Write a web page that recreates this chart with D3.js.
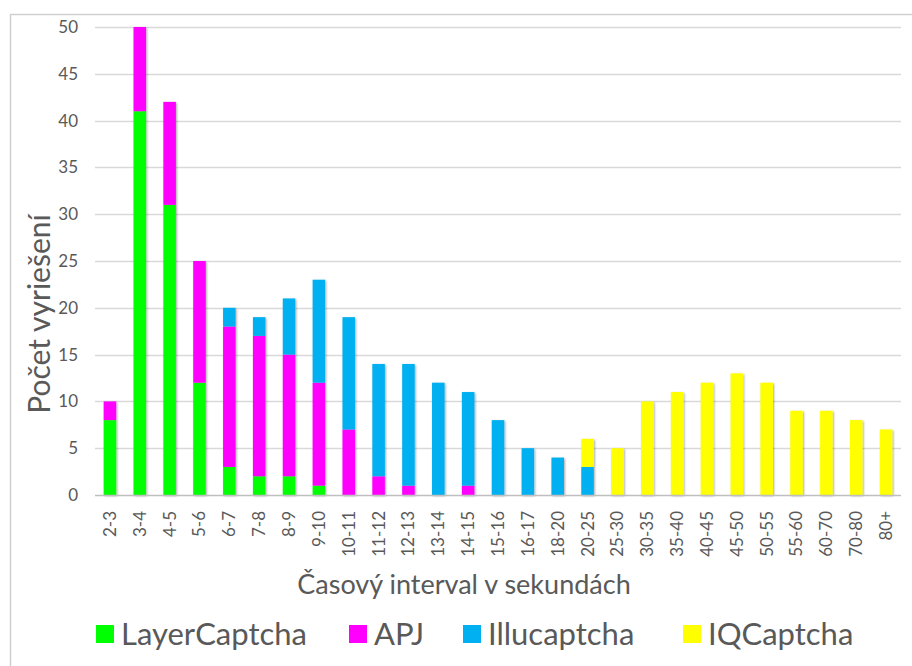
<!DOCTYPE html>
<html>
<head>
<meta charset="utf-8">
<script src="https://cdn.jsdelivr.net/npm/d3@7"></script>
<style>
  html, body { margin: 0; padding: 0; background: #fff; }
  svg { display: block; }
  text { font-family: Lato, "Open Sans", sans-serif; fill: #595959; }
</style>
</head>
<body>
<svg id="chart" width="912" height="666"></svg>
<script>
// Time intervals (seconds) and number of solutions per CAPTCHA type
const categories = ["2-3","3-4","4-5","5-6","6-7","7-8","8-9","9-10","10-11","11-12","12-13","13-14","14-15","15-16","16-17","18-20","20-25","25-30","30-35","35-40","40-45","45-50","50-55","55-60","60-70","70-80","80+"];
const layerCaptcha = [8,41,31,12,3,2,2,1,0,0,0,0,0,0,0,0,0,0,0,0,0,0,0,0,0,0,0];
const apj          = [2,9,11,13,15,15,13,11,7,2,1,0,1,0,0,0,0,0,0,0,0,0,0,0,0,0,0];
const illucaptcha  = [0,0,0,0,2,2,6,11,12,12,13,12,10,8,5,4,3,0,0,0,0,0,0,0,0,0,0];
const iqCaptcha    = [0,0,0,0,0,0,0,0,0,0,0,0,0,0,0,0,3,5,10,11,12,13,12,9,9,8,7];
const seriesNames  = ["LayerCaptcha","APJ","Illucaptcha","IQCaptcha"];
const seriesColors = ["#00ff00","#ff00ff","#00b0f0","#ffff00"];
const yTicks = [0,5,10,15,20,25,30,35,40,45,50];

const svg = d3.select("#chart");

// outer chart frame
svg.append("rect")
  .attr("x", 10.5).attr("y", 14.5).attr("width", 930).attr("height", 680)
  .attr("fill", "none").attr("stroke", "#d0d0d0").attr("stroke-width", 1.5);

const defs = svg.append("defs");
const f = defs.append("filter").attr("id", "shadow")
  .attr("x", "-50%").attr("y", "-10%").attr("width", "200%").attr("height", "120%");
f.append("feDropShadow").attr("dx", 1).attr("dy", 1).attr("stdDeviation", 1.2)
  .attr("flood-color", "#000").attr("flood-opacity", 0.35);

const plot = { left: 95, right: 901, top: 27, bottom: 495 };

const x = d3.scaleBand().domain(categories)
  .range([plot.left, plot.right]).paddingInner(0.58).paddingOuter(0.29);
const y = d3.scaleLinear().domain([0, 50]).range([plot.bottom, plot.top]);

// gridlines
svg.append("g").selectAll("line").data(yTicks.filter(d => d > 0)).join("line")
  .attr("x1", plot.left).attr("x2", plot.right)
  .attr("y1", d => Math.round(y(d)) + 0.5).attr("y2", d => Math.round(y(d)) + 0.5)
  .attr("stroke", "#d9d9d9").attr("stroke-width", 1.5);

// y axis labels
const yAxis = d3.axisLeft(y).tickValues(yTicks).tickSize(0).tickPadding(0);
const gy = svg.append("g").attr("transform", `translate(${plot.left - 17},0)`).call(yAxis);
gy.select(".domain").remove();
gy.selectAll("text").style("font-size", "17px").attr("fill", "#595959")
  .style("font-family", "Lato, sans-serif");

// stacked bars
const table = categories.map((c, i) => ({
  cat: c,
  LayerCaptcha: layerCaptcha[i], APJ: apj[i], Illucaptcha: illucaptcha[i], IQCaptcha: iqCaptcha[i]
}));
const stacked = d3.stack().keys(seriesNames)(table);

const barsG = svg.append("g").attr("filter", "url(#shadow)");
stacked.forEach((layer, si) => {
  barsG.append("g").attr("fill", seriesColors[si])
    .selectAll("rect").data(layer.filter(d => d[1] - d[0] > 0)).join("rect")
    .attr("x", d => x(d.data.cat))
    .attr("width", x.bandwidth())
    .attr("y", d => y(d[1]))
    .attr("height", d => y(d[0]) - y(d[1]));
});

// baseline
svg.append("line").attr("x1", plot.left).attr("x2", plot.right)
  .attr("y1", plot.bottom + 0.5).attr("y2", plot.bottom + 0.5)
  .attr("stroke", "#bfbfbf").attr("stroke-width", 1.5);

// x axis labels (rotated)
const xAxis = d3.axisBottom(x).tickSize(0).tickPadding(0);
const gx = svg.append("g").attr("transform", `translate(0,${plot.bottom})`).call(xAxis);
gx.select(".domain").remove();
gx.selectAll("text")
  .style("font-size", "17px").style("font-family", "Lato, sans-serif").attr("fill", "#595959")
  .attr("transform", "rotate(-90)")
  .attr("text-anchor", "end")
  .attr("x", -16).attr("y", 0).attr("dy", "0.35em");

// axis titles
svg.append("text").attr("x", 464).attr("y", 594).attr("text-anchor", "middle")
  .style("font-size", "27px").text("Časový interval v sekundách");
svg.append("text").attr("transform", "translate(50,314) rotate(-90)")
  .attr("text-anchor", "middle").style("font-size", "30px").text("Počet vyriešení");

// legend
const legendX = [96, 349, 463, 683];
const lg = svg.append("g");
seriesNames.forEach((name, i) => {
  lg.append("rect").attr("x", legendX[i]).attr("y", 625).attr("width", 18).attr("height", 18)
    .attr("fill", seriesColors[i]);
  lg.append("text").attr("x", legendX[i] + 25).attr("y", 645)
    .style("font-size", "31px").text(name);
});
</script>
</body>
</html>
